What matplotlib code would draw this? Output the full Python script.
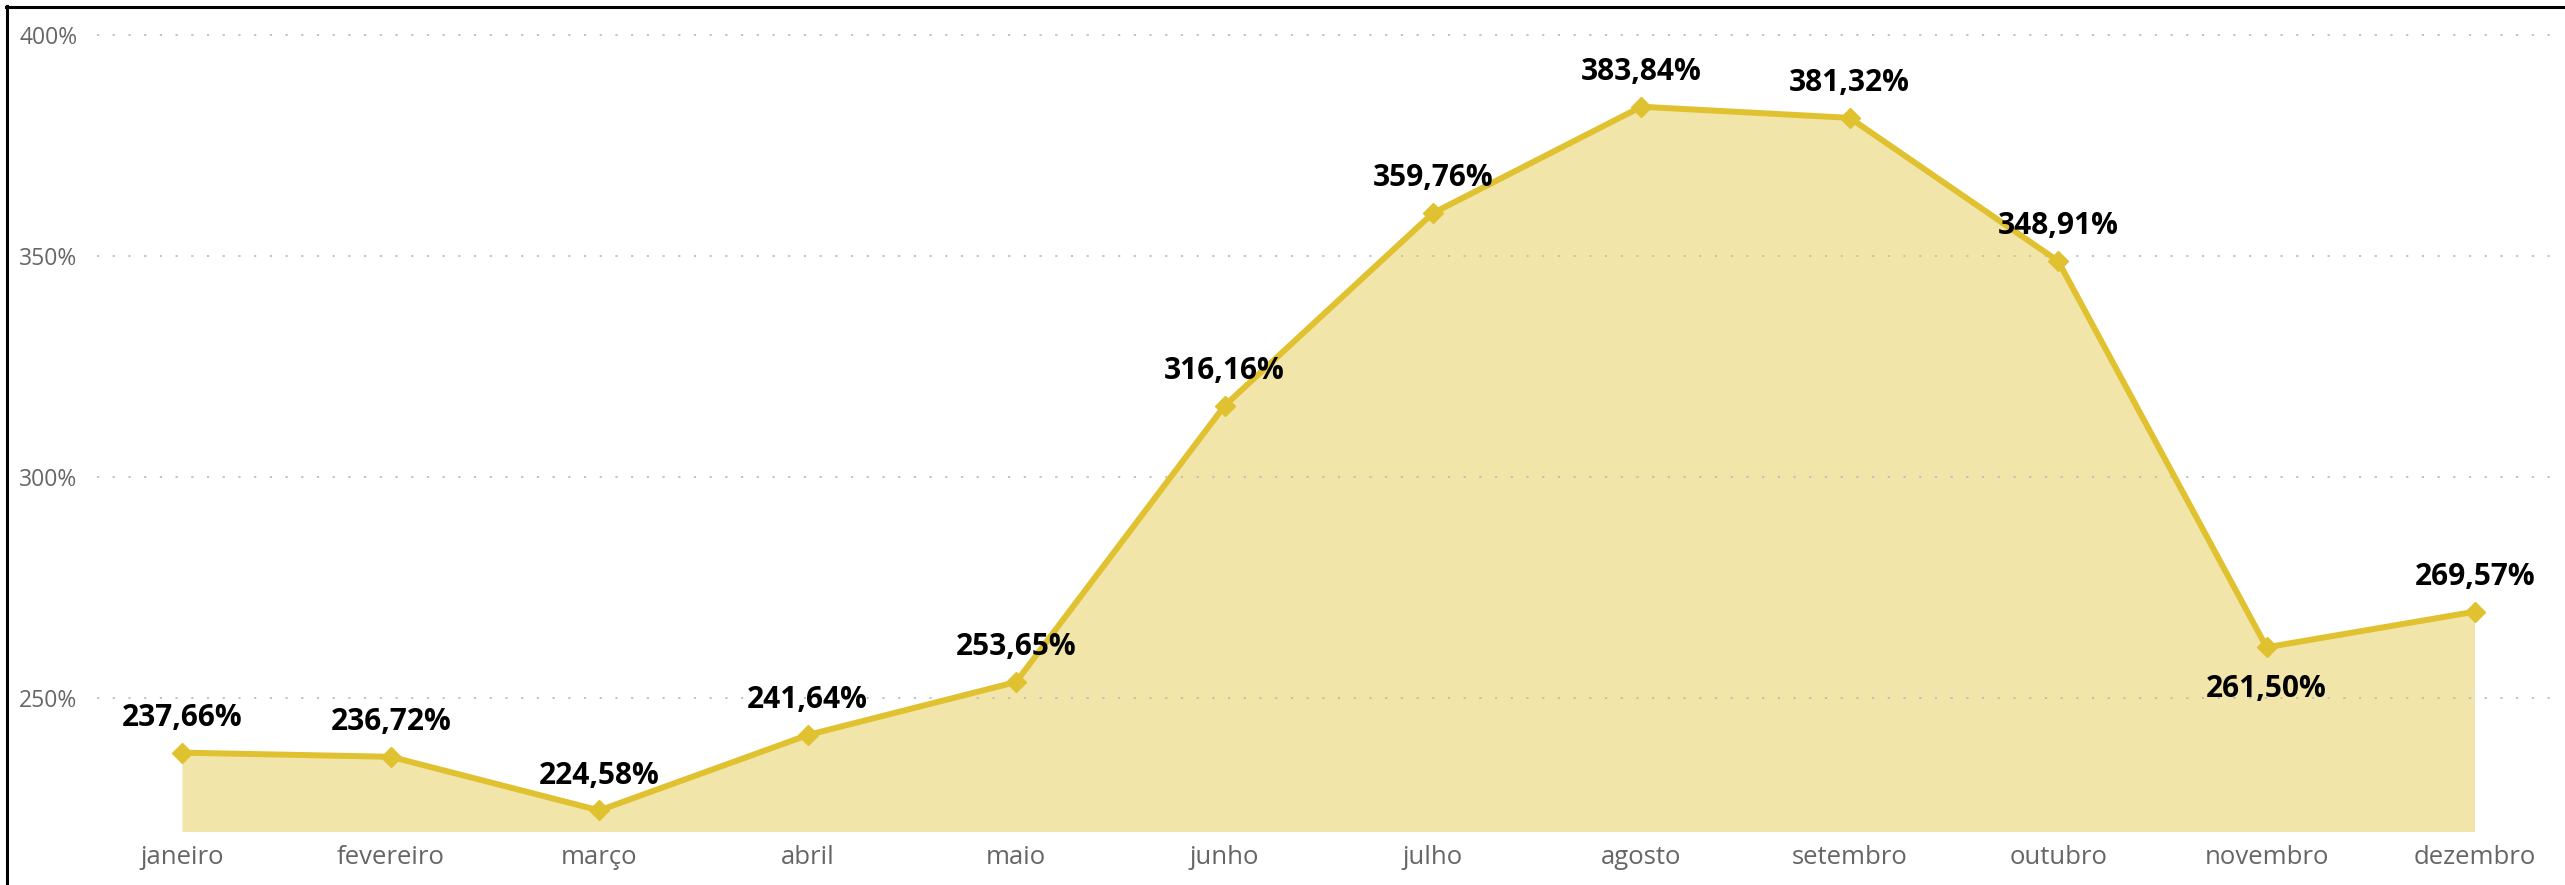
import matplotlib.pyplot as plt
from matplotlib.lines import Line2D
import numpy as np

# dados
meses = ['janeiro', 'fevereiro', 'março', 'abril', 'maio', 'junho',
         'julho', 'agosto', 'setembro', 'outubro', 'novembro', 'dezembro']
valores = [237.66, 236.72, 224.58, 241.64, 253.65, 316.16,
           359.76, 383.84, 381.32, 348.91, 261.50, 269.57]
yticks = [250, 300, 350, 400]

cor_linha = '#E0C130'
cor_area = '#F2E5AA'

fig = plt.figure(figsize=(25.65, 8.85), dpi=100)
ax = fig.add_axes([97 / 2565, 1 - 832 / 885, (2550 - 97) / 2565, (832 - 34) / 885])

x = np.arange(len(meses))
ax.fill_between(x, valores, 0, color=cor_area, lw=0, zorder=1)
ax.plot(x, valores, color=cor_linha, lw=4.3, marker='D', ms=10,
        mfc=cor_linha, mec=cor_linha, zorder=3, solid_joinstyle='miter')

# grade pontilhada por cima da area
for v in yticks:
    ax.axhline(v, color='#BDBDBD', lw=1.3, ls=(0, (1.2, 7.5)), zorder=2)

ax.set_xlim(-0.41, 11.36)
ax.set_ylim(219.7, 400.3)
ax.set_xticks(x)
ax.set_xticklabels(meses)
ax.set_yticks(yticks)
ax.set_yticklabels([f'{v}%' for v in yticks])
ax.tick_params(axis='both', length=0, colors='#666666')
ax.tick_params(axis='x', pad=9, labelsize=18.5)
ax.tick_params(axis='y', pad=14, labelsize=16.5)
for lbl in ax.get_xticklabels() + ax.get_yticklabels():
    lbl.set_fontfamily('Open Sans')
for s in ax.spines.values():
    s.set_visible(False)

# rotulos de dados
for i, v in enumerate(valores):
    txt = f'{v:.2f}%'.replace('.', ',')
    if meses[i] == 'novembro':
        ax.annotate(txt, (i, v), xytext=(0, -30), textcoords='offset points',
                    ha='center', va='center', fontsize=21.5, fontweight='bold',
                    family='Open Sans', color='black', zorder=4)
    else:
        ax.annotate(txt, (i, v), xytext=(0, 25), textcoords='offset points',
                    ha='center', va='center', fontsize=21.5, fontweight='bold',
                    family='Open Sans', color='black', zorder=4)

# borda (esquerda e topo)
fig.add_artist(Line2D([7 / 2565, 7 / 2565], [0, 1 - 6 / 885], color='black', lw=2.2,
                      transform=fig.transFigure))
fig.add_artist(Line2D([6 / 2565, 1], [1 - 7 / 885, 1 - 7 / 885], color='black', lw=2.2,
                      transform=fig.transFigure))

fig.savefig('out.png', dpi=100, facecolor='white')
